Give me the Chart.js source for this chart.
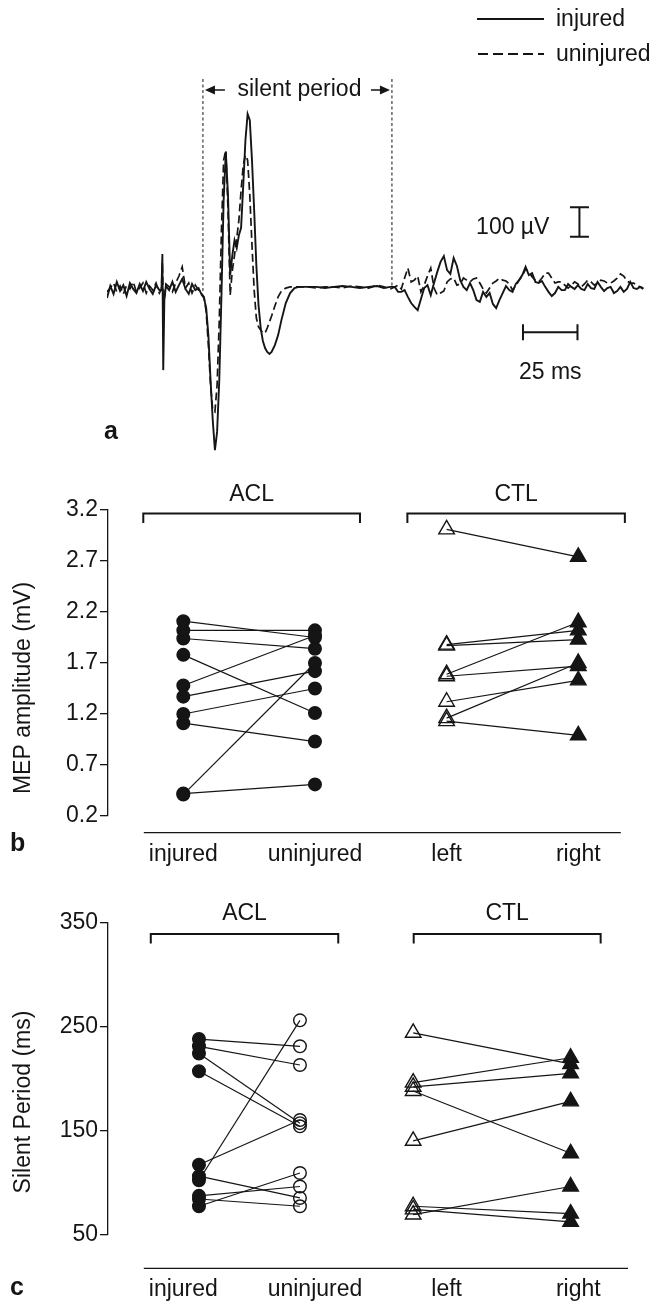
<!DOCTYPE html>
<html>
<head>
<meta charset="utf-8">
<script src="https://cdn.jsdelivr.net/npm/chart.js@4.4.0/dist/chart.umd.min.js"></script>
<style>
  html, body { margin: 0; padding: 0; background: #fff; }
  #wrap { position: relative; width: 653px; height: 1304px; }
  #wrap canvas { position: absolute; left: 0; }
</style>
</head>
<body>
<div id="wrap">
  <canvas id="chart_a" width="653" height="470" style="top:0"></canvas>
  <canvas id="chart_b" width="653" height="410" style="top:470px"></canvas>
  <canvas id="chart_c" width="653" height="424" style="top:880px"></canvas>
</div>
<script>
/* Figure: MEP traces (a), MEP amplitude (b), silent period (c) */

// ---- panel a: EMG traces, time in ms, amplitude in µV ----
const semgTimeMs = [
  0,1.5,3,4.5,6,7.5,9,10.5,12,13.5,15,16.5,18,19.5,21,22.5,24,
  25,25.4,25.8,26.3,27,
  28.5,30,31.5,33,34.5,36,37.5,39,40.5,42,43.5,
  44.5,45.5,46.5,47.5,48.5,49.5,50.5,51.5,52.5,53.5,54.5,55.5,56.5,57.5,58.5,59.5,
  60.5,61.5,62.5,63.5,64.5,65.5,66.5,67.5,68.5,69.5,70.5,71.5,72.5,73.5,74.5,75.5,
  77,78.5,80,82,84,86,88,
  92,96,100,104,108,112,116,120,124,127,130,
  132,133.5,135,136.5,138,139.5,141,142.5,144,145.5,147,148.5,150,151.5,153,154.5,156,157.5,159,160.5,
  162,163.5,165,166.5,168,169.5,171,172.5,174,175.5,177,178.5,180,181.5,183,184.5,186,187.5,189,190.5,
  192,193.5,195,196.5,198,199.5,201,202.5,204,205.5,207,208.5,210,211.5,213,214.5,216,217.5,219,220.5,
  222,223.5,225,226.5,228,229.5,231,232.5,234,235.5,237,238.5,240,241.5,243,244.5,246
];
const injuredTraceUv = [
  -24,17,-10,31,0,20,-17,27,7,-7,24,0,31,7,-10,20,3,
  3,126,-269,-31,17,
  3,31,-3,20,41,7,-10,24,3,10,-14,
  -24,-58,-150,-303,-439,-541,-479,-303,-14,309,473,326,54,122,173,146,
  190,215,360,513,602,581,445,275,88,-48,-126,-170,-194,-207,-214,-207,
  -184,-150,-99,-41,-7,10,14,
  14,14,10,14,17,14,10,14,17,10,14,
  14,-3,-3,3,-20,-41,-54,-65,-27,10,20,-14,27,65,99,119,71,58,112,85,
  37,14,3,27,3,-31,-37,-3,-20,-7,-44,-58,-31,-7,17,3,-3,24,37,54,
  82,54,61,31,27,34,14,-3,-17,-7,14,3,3,24,14,7,20,7,3,24,
  10,7,31,14,0,10,14,-7,0,14,-3,7,31,10,7,14,7
];
const uninjuredTraceUv = [
  -3,10,27,-3,17,-10,20,7,31,-3,10,27,-7,17,3,27,-7,
  7,99,-48,-24,24,
  14,-3,27,51,82,10,27,-7,20,3,-10,
  -20,-71,-184,-320,-405,-411,-320,-99,207,445,479,275,-14,71,122,180,
  241,343,428,462,445,326,156,3,-92,-122,-133,-143,-143,-126,-105,-85,
  -51,-20,0,10,14,14,14,
  14,10,14,14,10,17,14,10,20,14,7,
  14,20,7,44,78,31,37,51,-3,20,51,78,10,-14,-7,0,31,41,44,20,
  24,44,37,31,41,44,27,7,-7,10,27,34,44,37,34,24,3,17,37,51,
  75,65,48,37,31,44,61,61,44,27,31,31,20,10,20,31,24,14,24,37,
  31,20,27,37,34,27,27,34,44,58,51,34,27,27,20,14,10
];
const silentPeriodMs = [44, 130.7];
const timeBarMs = 25;
const ampBarUv = 100;

// ---- panels b and c ----
const sideLabels = ['injured', 'uninjured', 'left', 'right'];
const groupLabels = ['ACL', 'CTL'];

const mepTicks = [0.2, 0.7, 1.2, 1.7, 2.2, 2.7, 3.2];
const mepAclInjured   = [2.11, 2.02, 1.94, 1.78, 1.48, 1.37, 1.20, 1.11, 0.41, 0.42];
const mepAclUninjured = [1.95, 2.02, 1.84, 1.21, 1.97, 1.62, 1.45, 0.93, 1.70, 0.51];
const mepCtlLeft  = [3.01, 1.88, 1.87, 1.59, 1.57, 1.32, 1.16, 1.13];
const mepCtlRight = [2.74, 2.02, 1.93, 2.10, 1.67, 1.53, 1.70, 0.99];

const spTicks = [50, 150, 250, 350];
const spAclInjured   = [238, 231, 224, 207, 117, 106, 102, 87, 84, 77];
const spAclUninjured = [231, 213, 157, 154, 160, 85, 256, 96, 77, 109];
const spCtlLeft  = [244, 196, 192, 188, 140, 77, 74, 69];
const spCtlRight = [214, 220, 205, 128, 178, 70, 62, 96];

// ---- look ----
const INK = '#151515';
const FONT = '"Liberation Sans", Arial, Helvetica, sans-serif';
const FS = 23;
Chart.defaults.font.family = FONT;
Chart.defaults.color = INK;

// column positions on the shared x scale (labels sit at 1..4)
const colsB = [1, 2, 3, 4];
const colsC = [1.119, 1.886, 2.746, 3.942];

function arrowHead(ctx, x, y, dir){
  ctx.beginPath();
  ctx.moveTo(x, y);
  ctx.lineTo(x - dir * 10, y - 4.5);
  ctx.lineTo(x - dir * 10, y + 4.5);
  ctx.closePath();
  ctx.fill();
}

const semgDecor = {
  id: 'semgDecor',
  afterDatasetsDraw(chart){
    const { ctx, scales: { x, y } } = chart;
    ctx.save();
    ctx.strokeStyle = INK;
    ctx.fillStyle = INK;

    // silent period markers
    const xs = x.getPixelForValue(silentPeriodMs[0]);
    const xe = x.getPixelForValue(silentPeriodMs[1]);
    ctx.lineWidth = 1;
    ctx.setLineDash([3, 2.5]);
    ctx.beginPath();
    ctx.moveTo(xs, 79); ctx.lineTo(xs, y.getPixelForValue(-7));
    ctx.moveTo(xe, 79); ctx.lineTo(xe, y.getPixelForValue(10));
    ctx.stroke();
    ctx.setLineDash([]);

    const ay = 90;
    ctx.lineWidth = 1.4;
    ctx.beginPath();
    ctx.moveTo(xs + 8, ay); ctx.lineTo(xs + 22, ay);
    ctx.moveTo(xe - 21, ay); ctx.lineTo(xe - 8, ay);
    ctx.stroke();
    arrowHead(ctx, xs + 2, ay, -1);
    arrowHead(ctx, xe - 2, ay, 1);

    ctx.font = FS + 'px ' + FONT;
    ctx.textAlign = 'center';
    ctx.textBaseline = 'middle';
    ctx.fillText('silent period', (xs + xe) / 2 + 2, ay);

    // amplitude scale bar
    const ax = x.getPixelForValue(216.7);
    const a0 = y.getPixelForValue(184.6);
    const a1 = y.getPixelForValue(184.6 + ampBarUv);
    ctx.lineWidth = 2;
    ctx.beginPath();
    ctx.moveTo(ax, a0); ctx.lineTo(ax, a1);
    ctx.moveTo(ax - 9.5, a0); ctx.lineTo(ax + 9.5, a0);
    ctx.moveTo(ax - 9.5, a1); ctx.lineTo(ax + 9.5, a1);
    ctx.stroke();
    ctx.textAlign = 'right';
    ctx.fillText(ampBarUv + ' \u00b5V', ax - 30, (a0 + a1) / 2 + 6);

    // time scale bar
    const t0 = x.getPixelForValue(190.8);
    const t1 = x.getPixelForValue(190.8 + timeBarMs);
    const ty = y.getPixelForValue(-140);
    ctx.beginPath();
    ctx.moveTo(t0, ty); ctx.lineTo(t1, ty);
    ctx.moveTo(t0, ty - 8); ctx.lineTo(t0, ty + 8);
    ctx.moveTo(t1, ty - 8); ctx.lineTo(t1, ty + 8);
    ctx.stroke();
    ctx.textAlign = 'center';
    ctx.fillText(timeBarMs + ' ms', (t0 + t1) / 2, ty + 40);

    // legend
    ctx.lineWidth = 1.8;
    ctx.beginPath();
    ctx.moveTo(477, 19); ctx.lineTo(544, 19);
    ctx.stroke();
    ctx.setLineDash([10, 5]);
    ctx.beginPath();
    ctx.moveTo(478, 54); ctx.lineTo(544, 54);
    ctx.stroke();
    ctx.setLineDash([]);
    ctx.textAlign = 'left';
    ctx.fillText('injured', 556, 20);
    ctx.fillText('uninjured', 556, 55);

    ctx.font = 'bold 25px ' + FONT;
    ctx.fillText('a', 104, 432);
    ctx.restore();
  }
};

new Chart(document.getElementById('chart_a'), {
  type: 'line',
  data: {
    datasets: [
      { label: 'injured', data: semgTimeMs.map((t, i) => ({ x: t, y: injuredTraceUv[i] })),
        borderColor: INK, borderWidth: 1.9, pointRadius: 0, tension: 0 },
      { label: 'uninjured', data: semgTimeMs.map((t, i) => ({ x: t, y: uninjuredTraceUv[i] })),
        borderColor: INK, borderWidth: 1.7, borderDash: [8, 4], pointRadius: 0, tension: 0 }
    ]
  },
  options: {
    responsive: false,
    animation: false,
    events: [],
    layout: { padding: { left: 107, right: 7.5, top: 0, bottom: 0 } },
    plugins: { legend: { display: false }, tooltip: { enabled: false } },
    scales: {
      x: { type: 'linear', min: 0, max: 247, display: false },
      y: { min: -608.6, max: 989.4, display: false }
    }
  },
  plugins: [semgDecor]
});

// ---- paired plots ----
function pairSets(leftVals, rightVals, xs, mk){
  return leftVals.map((v, i) => ({
    data: [{ x: xs[0], y: v }, { x: xs[1], y: rightVals[i] }],
    showLine: true,
    borderColor: INK,
    borderWidth: 1.2,
    pointStyle: mk.style,
    pointRadius: mk.radius,
    pointBackgroundColor: mk.fill,
    pointBorderColor: INK,
    pointBorderWidth: 1.4
  }));
}

const panelDecor = {
  id: 'panelDecor',
  afterDraw(chart, args, o){
    const { ctx, scales: { x } } = chart;
    ctx.save();
    ctx.strokeStyle = INK;
    ctx.fillStyle = INK;

    // y title
    ctx.font = FS + 'px ' + FONT;
    ctx.textAlign = 'center';
    ctx.textBaseline = 'middle';
    ctx.save();
    ctx.translate(o.titleX, o.titleY);
    ctx.rotate(-Math.PI / 2);
    ctx.fillText(o.title, 0, 0);
    ctx.restore();

    // group brackets
    ctx.lineWidth = 2;
    o.brackets.forEach((b, i) => {
      const x0 = x.getPixelForValue(b[0]);
      const x1 = x.getPixelForValue(b[1]);
      ctx.beginPath();
      ctx.moveTo(x0, o.bracketTop + o.bracketDrop);
      ctx.lineTo(x0, o.bracketTop);
      ctx.lineTo(x1, o.bracketTop);
      ctx.lineTo(x1, o.bracketTop + o.bracketDrop);
      ctx.stroke();
      ctx.fillText(groupLabels[i], (x0 + x1) / 2, o.groupLabelY);
    });

    // base line above the side labels
    ctx.lineWidth = 1.3;
    ctx.beginPath();
    ctx.moveTo(o.baseFrom, o.baseY);
    ctx.lineTo(o.baseTo, o.baseY);
    ctx.stroke();

    ctx.font = 'bold 25px ' + FONT;
    ctx.textAlign = 'left';
    ctx.fillText(o.letter, 10, o.letterY);
    ctx.restore();
  }
};

function makePanel(id, cfg){
  return new Chart(document.getElementById(id), {
    type: 'scatter',
    data: { datasets: cfg.datasets },
    options: {
      responsive: false,
      animation: false,
      events: [],
      clip: false,
      layout: { padding: { top: cfg.padTop, right: 28, left: 0, bottom: 0 } },
      plugins: { legend: { display: false }, tooltip: { enabled: false }, panelDecor: cfg.decor },
      scales: {
        x: {
          type: 'linear', min: 0.428, max: 4.355,
          afterBuildTicks: s => { s.ticks = sideLabels.map((_, i) => ({ value: i + 1 })); },
          afterFit: s => { s.height = cfg.xAxisH; },
          grid: { display: false, drawTicks: false },
          border: { display: false },
          ticks: { padding: cfg.labelPad, color: INK, font: { size: FS }, maxRotation: 0, autoSkip: false,
                   callback: (v, i) => sideLabels[i] }
        },
        y: {
          min: cfg.yTicks[0], max: cfg.yTicks[cfg.yTicks.length - 1],
          afterBuildTicks: s => { s.ticks = cfg.yTicks.map(v => ({ value: v })); },
          afterFit: s => { s.width = 108; },
          grid: { drawOnChartArea: false, drawTicks: true, tickLength: 8, color: INK, lineWidth: 1.3 },
          border: { display: true, color: INK, width: 1.3 },
          ticks: { padding: 2, color: INK, font: { size: FS }, callback: cfg.tickFmt }
        }
      }
    },
    plugins: [panelDecor]
  });
}

const OPEN = 'rgba(0,0,0,0)';

makePanel('chart_b', {
  padTop: 40, xAxisH: 64, labelPad: 25,
  yTicks: mepTicks,
  tickFmt: v => Number(v).toFixed(1),
  datasets: [
    ...pairSets(mepAclInjured, mepAclUninjured, [colsB[0], colsB[1]],
      { style: 'circle', radius: 6.3, fill: [INK, INK] }),
    ...pairSets(mepCtlLeft, mepCtlRight, [colsB[2], colsB[3]],
      { style: 'triangle', radius: 9, fill: [OPEN, INK] })
  ],
  decor: {
    title: 'MEP amplitude (mV)', titleX: 24, titleY: 218,
    brackets: [[0.696, 2.342], [2.702, 4.354]],
    bracketTop: 43.5, bracketDrop: 9.5, groupLabelY: 25,
    baseY: 362.7, baseFrom: 143.8, baseTo: 620.8,
    letter: 'b', letterY: 374
  }
});

makePanel('chart_c', {
  padTop: 42.7, xAxisH: 69.7, labelPad: 42,
  yTicks: spTicks,
  tickFmt: v => String(v),
  datasets: [
    ...pairSets(spAclInjured, spAclUninjured, [colsC[0], colsC[1]],
      { style: 'circle', radius: 6.3, fill: [INK, OPEN] }),
    ...pairSets(spCtlLeft, spCtlRight, [colsC[2], colsC[3]],
      { style: 'triangle', radius: 9, fill: [OPEN, INK] })
  ],
  decor: {
    title: 'Silent Period (ms)', titleX: 24, titleY: 222,
    brackets: [[0.753, 2.177], [2.75, 4.17]],
    bracketTop: 54, bracketDrop: 9.5, groupLabelY: 34,
    baseY: 388.3, baseFrom: 143.8, baseTo: 628,
    letter: 'c', letterY: 408
  }
});
</script>
</body>
</html>
